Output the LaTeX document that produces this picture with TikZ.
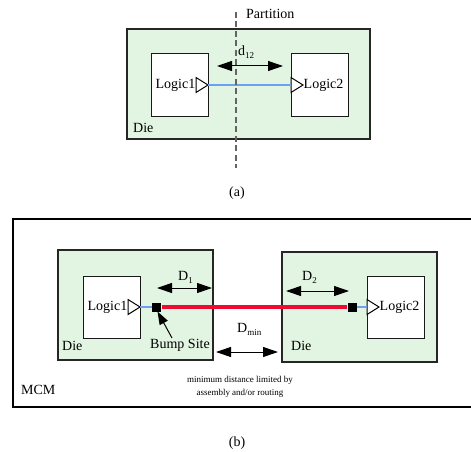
\documentclass[tikz,border=0pt]{standalone}
\usepackage{fontspec}
\setmainfont{Liberation Serif}
\usetikzlibrary{arrows.meta}
\definecolor{diegreen}{RGB}{226,244,226}
\definecolor{wireblue}{RGB}{110,160,240}
\definecolor{wirered}{RGB}{240,10,50}
\definecolor{partgray}{RGB}{100,100,100}
\begin{document}
\begin{tikzpicture}[x=1pt,y=-1pt,
  font=\fontsize{14}{16}\selectfont,
  die/.style={draw=black!85, line width=1.2pt, fill=diegreen, anchor=north west, inner sep=0pt, outer sep=0pt},
  logic/.style={draw=black!90, line width=1pt, fill=white, anchor=north west, inner sep=0pt, outer sep=0pt, minimum width=57pt, minimum height=62pt},
  dimarrow/.style={{Triangle[length=15pt,width=10pt]}-{Triangle[length=15pt,width=10pt]}, line width=1pt},
  lbl/.style={inner sep=0pt, anchor=west},
  bump/.style={fill=black, minimum size=9pt, inner sep=0pt, outer sep=0pt},
  tri/.style={draw=black, line width=1pt, fill=white, line join=miter},
  small/.style={font=\fontsize{9}{13}\selectfont, align=center, inner sep=0pt}]
\useasboundingbox (0,0) rectangle (471,452);

% ---------------- (a) ----------------
\node[die, minimum width=243pt, minimum height=110pt] (dieA) at (127,29) {};
\node[logic] (l1a) at (151,54) {};
\node[logic] (l2a) at (291,54) {};
\draw[tri] ([xshift=-12pt,yshift=7.5pt]l1a.east) -- (l1a.east) -- ([xshift=-12pt,yshift=-7.5pt]l1a.east) -- cycle;
\draw[tri] ([yshift=7.5pt]l2a.west) -- ([xshift=12pt]l2a.west) -- ([yshift=-7.5pt]l2a.west) -- cycle;
\draw[wireblue, line width=2pt] (l1a.east) -- (l2a.west);
\node[lbl, anchor=east] (t1a) at ([xshift=-12.5pt]l1a.east) {Logic1};
\node[lbl] (t2a) at ([xshift=12.5pt]l2a.west) {Logic2};
\node[lbl] (dieAlbl) at (133,128) {Die};
\coordinate (pt) at (236,12);
\coordinate (pb) at (236,168);
\draw[partgray, line width=1.3pt, dash pattern=on 6pt off 3.5pt] (pt) -- (pb);
\node[lbl] (part) at (246,14) {Partition};
\coordinate (d12l) at (217,66);
\coordinate (d12r) at (283,66);
\draw[dimarrow] (d12l) -- (d12r);
\node[lbl] (d12) at (238,52) {d\raisebox{-3pt}{\fontsize{9}{9}\selectfont 12}};
\node (capa) at (237,193) {(a)};

% ---------------- (b) ----------------
\coordinate (mtr) at (473,219);
\coordinate (mtl) at (13,219);
\coordinate (mbl) at (13,407);
\coordinate (mbr) at (473,407);
\draw[line width=1.8pt] (mtr) -- (mtl) -- (mbl) -- (mbr);
\node[lbl] (mcm) at (21,390) {MCM};

\node[die, minimum width=155pt, minimum height=110pt] (dieB1) at (58,250) {};
\node[die, minimum width=155pt, minimum height=110pt] (dieB2) at (282,252) {};
\node[logic] (l1b) at (83,276) {};
\node[logic] (l2b) at (367,276) {};
\draw[tri] ([xshift=-12pt,yshift=7.5pt]l1b.east) -- (l1b.east) -- ([xshift=-12pt,yshift=-7.5pt]l1b.east) -- cycle;
\draw[tri] ([yshift=7.5pt]l2b.west) -- ([xshift=12pt]l2b.west) -- ([yshift=-7.5pt]l2b.west) -- cycle;
\node[lbl, anchor=east] (t1b) at ([xshift=-12.5pt]l1b.east) {Logic1};
\node[lbl] (t2b) at ([xshift=12.5pt]l2b.west) {Logic2};

\node[bump] (bump1) at (156.5,307) {};
\node[bump] (bump2) at (352.5,307) {};
\draw[wireblue, line width=1.5pt] (l1b.east) -- (bump1.west);
\draw[wireblue, line width=1.5pt] (bump2.east) -- (l2b.west);
\draw[wirered, line width=4.5pt] ([xshift=1pt]bump1.east) -- ([xshift=-1pt]bump2.west);

\coordinate (D1l) at (157,288);
\coordinate (D1r) at (212,288);
\draw[dimarrow] (D1l) -- (D1r);
\node[lbl] (D1) at (178,277) {D\raisebox{-3pt}{\fontsize{9}{9}\selectfont 1}};
\coordinate (D2l) at (286,291);
\coordinate (D2r) at (349,291);
\draw[dimarrow] (D2l) -- (D2r);
\node[lbl] (D2) at (302,277) {D\raisebox{-3pt}{\fontsize{9}{9}\selectfont 2}};
\coordinate (Dml) at (216,352);
\coordinate (Dmr) at (278,352);
\draw[dimarrow] (Dml) -- (Dmr);
\node[lbl] (Dmin) at (237,329) {D\raisebox{-3pt}{\fontsize{9}{9}\selectfont min}};

\node[inner sep=0pt] (bumplbl) at (180,345) {Bump Site};
\coordinate (bstail) at (172,338);
\draw[line width=1pt, -{Triangle[length=13pt,width=9pt]}] (bstail) -- ([xshift=1pt]bump1.south);
\node[lbl] (dieB1lbl) at (62,346) {Die};
\node[lbl] (dieB2lbl) at (291,346) {Die};
\node[small] (note) at (240,386.5) {minimum distance limited by\\assembly and/or routing};
\node (capb) at (237,443) {(b)};
\end{tikzpicture}
\end{document}
